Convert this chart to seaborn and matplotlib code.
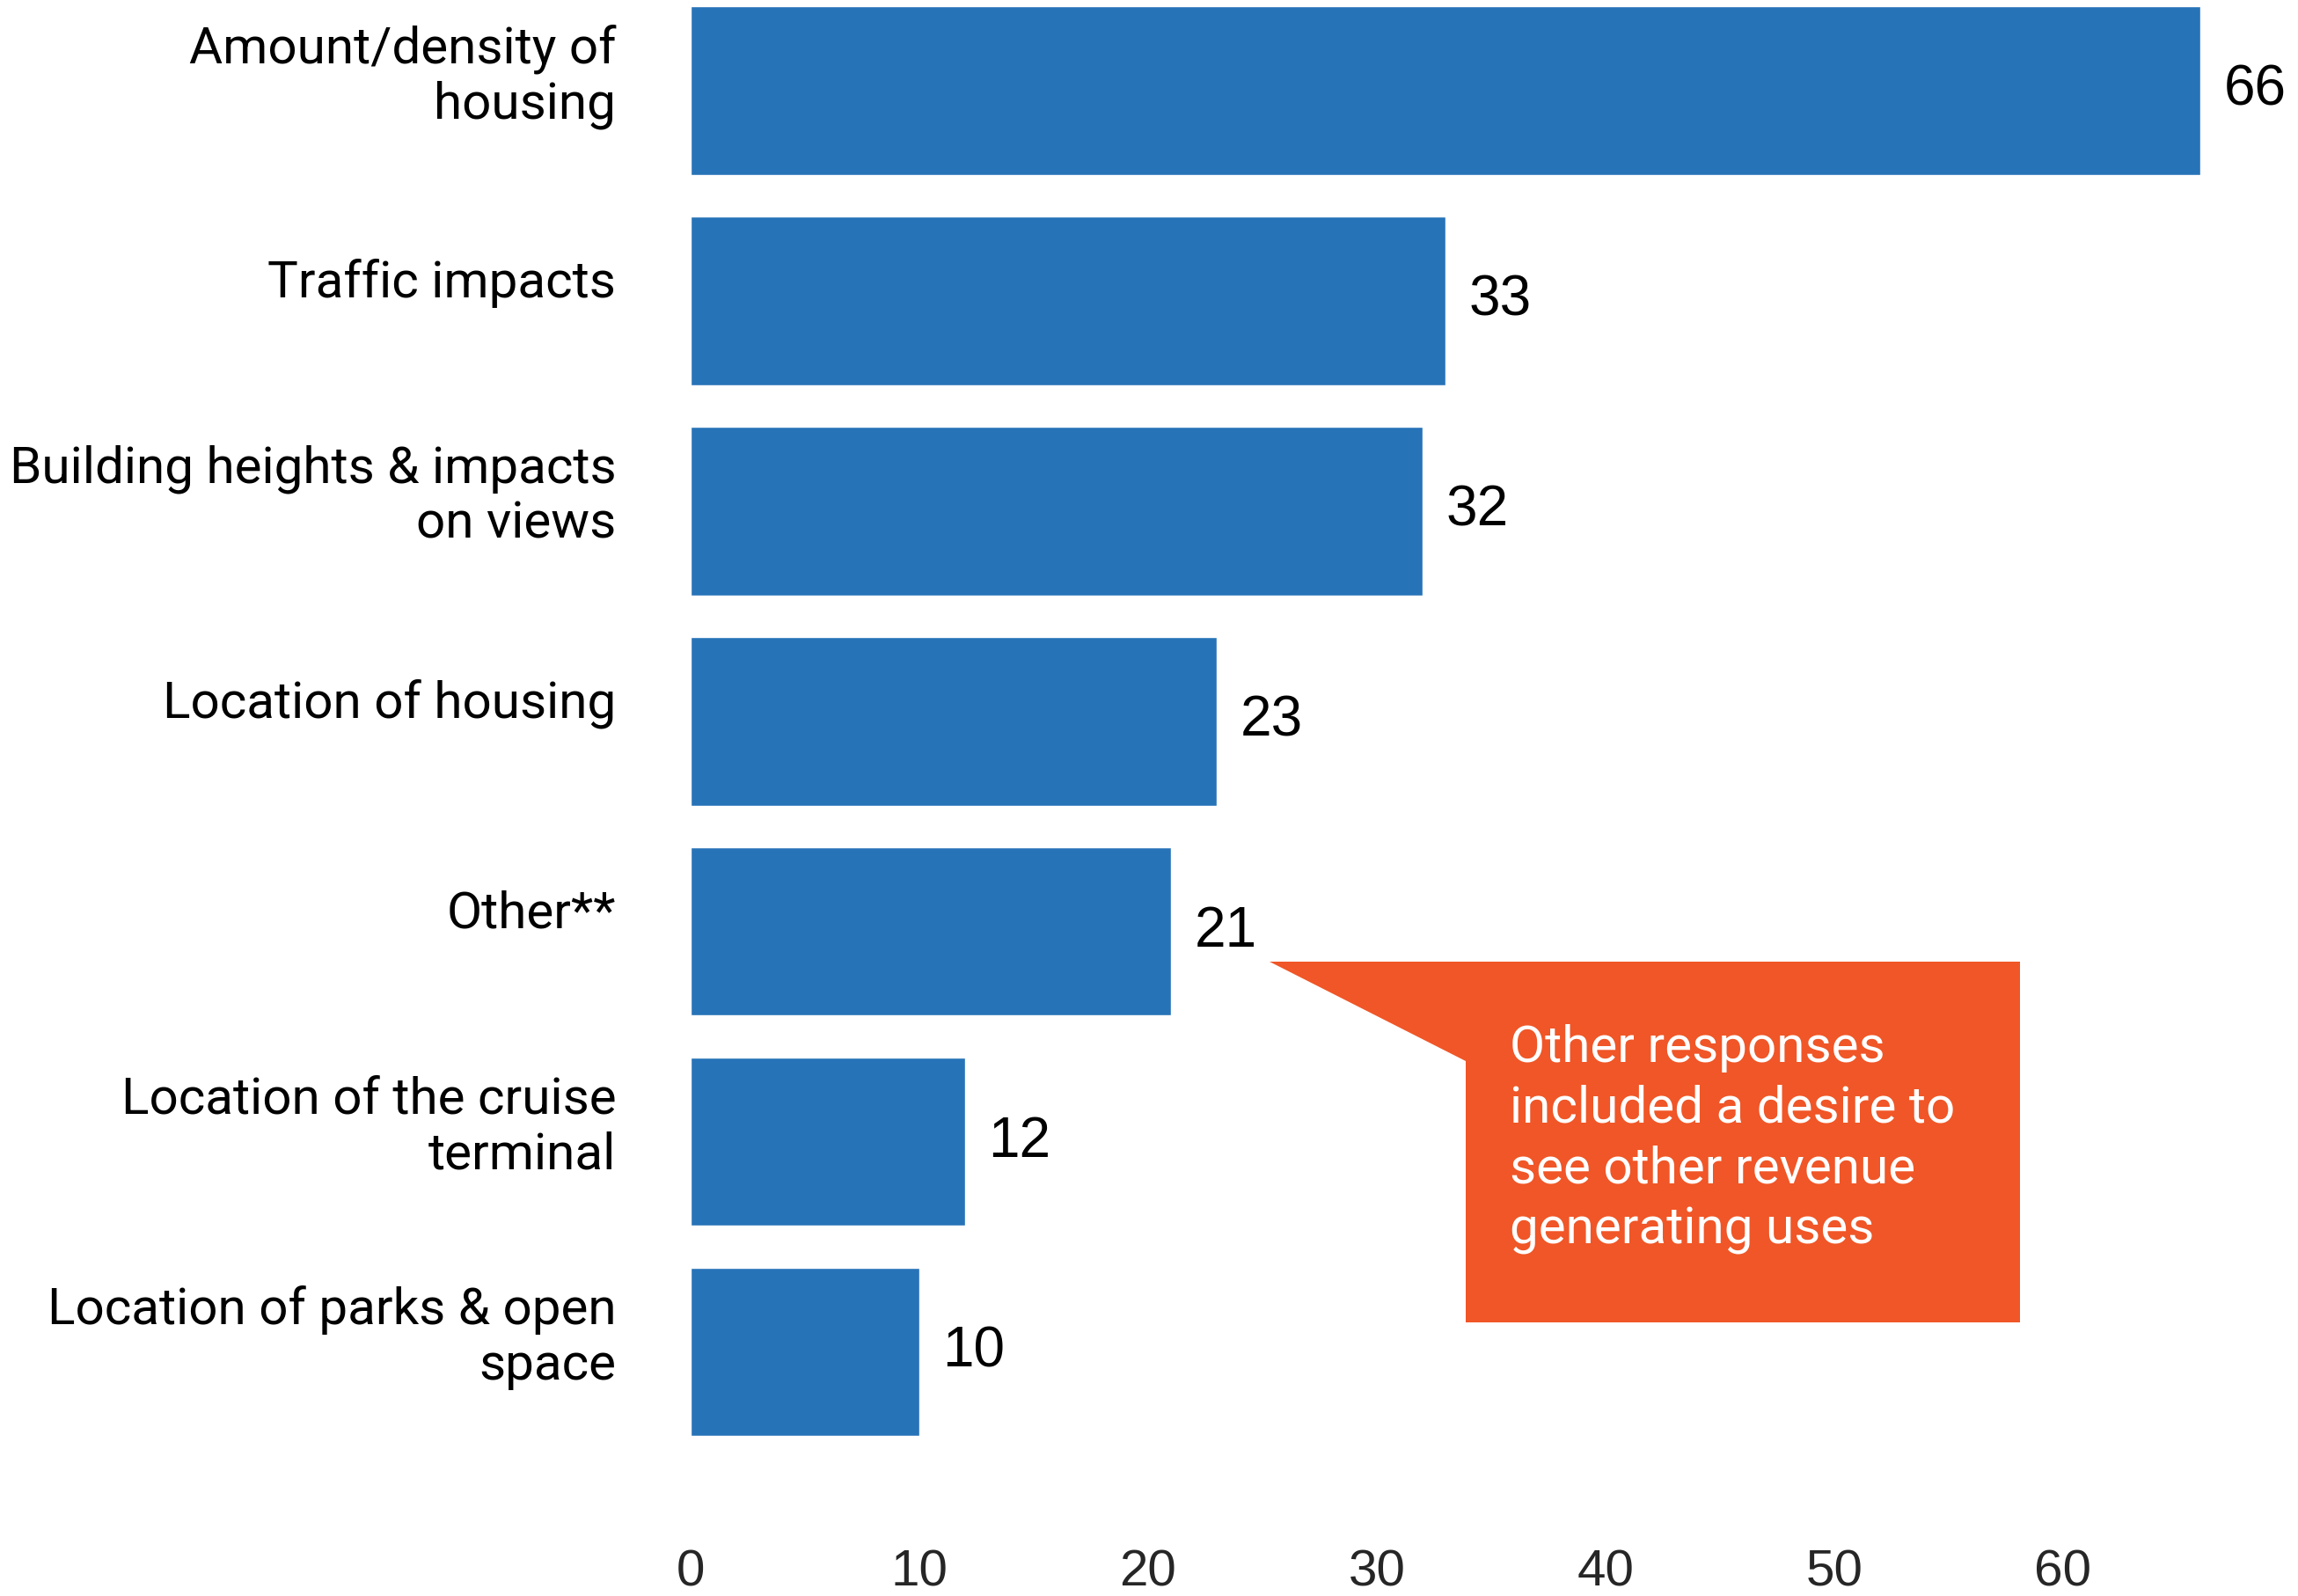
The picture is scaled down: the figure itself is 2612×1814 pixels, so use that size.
import matplotlib
matplotlib.use("Agg")
import matplotlib.pyplot as plt
from matplotlib.patches import Polygon
from matplotlib.transforms import ScaledTranslation
import seaborn as sns
import pandas as pd

# Survey responses (number of mentions) per concern
categories = [
    "Amount/density of\nhousing",
    "Traffic impacts",
    "Building heights & impacts\non views",
    "Location of housing",
    "Other**",
    "Location of the cruise\nterminal",
    "Location of parks & open\nspace",
]
counts = [66, 33, 32, 23, 21, 12, 10]
x_ticks = [0, 10, 20, 30, 40, 50, 60]

callout_text = "Other responses\nincluded a desire to\nsee other revenue\ngenerating uses"

BAR_COLOR = "#2773B8"
CALLOUT_COLOR = "#F05627"

df = pd.DataFrame({"Concern": categories, "Count": counts})

sns.set_style("white")
fig = plt.figure(figsize=(26.12, 18.14), dpi=100)
ax = fig.add_axes([0.3005, 0.0408, 0.6968, 0.9592])

sns.barplot(data=df, x="Count", y="Concern", color=BAR_COLOR, saturation=1,
            width=0.8, orient="h", ax=ax)

ax.set_xlim(0, 70)
ax.set_ylim(6.85, -0.431)
ax.set_xlabel("")
ax.set_ylabel("")
sns.despine(ax=ax, left=True, bottom=True)
ax.tick_params(axis="both", length=0)

ax.set_xticks(x_ticks)
ax.set_xticklabels([str(t) for t in x_ticks], fontsize=42,
                   family="Liberation Sans", color="#262626")
ax.tick_params(axis="x", pad=15)

ax.tick_params(axis="y", pad=61)
for lab in ax.get_yticklabels():
    lab.set_fontsize(42)
    lab.set_family("Roboto")
    lab.set_color("black")
    lab.set_linespacing(1.18)
    # labels sit slightly above the bar centre
    lab.set_transform(lab.get_transform() + ScaledTranslation(0, 0.26, fig.dpi_scale_trans))

ax.bar_label(ax.containers[0], padding=19, fontsize=46,
             family="Liberation Sans", color="black")

# callout box pointing at the "Other" bar
callout = Polygon([(25.3, 4.142), (58.1, 4.142), (58.1, 5.858), (33.9, 5.858), (33.9, 4.615)],
                  closed=True, facecolor=CALLOUT_COLOR, edgecolor="none", zorder=3)
ax.add_patch(callout)
ax.text(35.8, 4.44, callout_text, fontsize=42, family="Roboto", color="white",
        ha="left", va="top", linespacing=1.32, zorder=4)

plt.savefig("out.png", dpi=100)
